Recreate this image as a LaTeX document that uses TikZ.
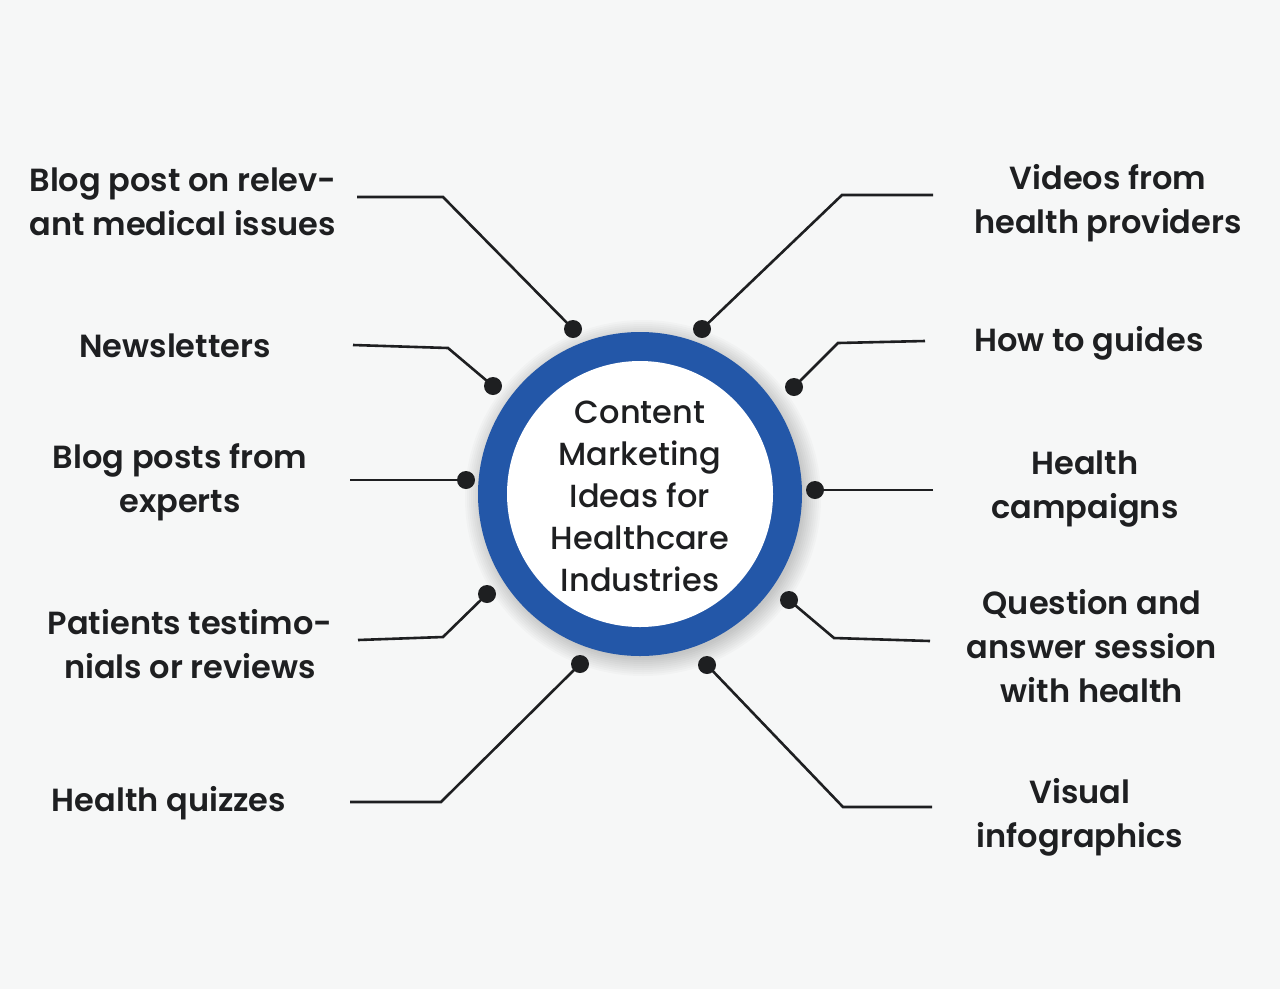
\documentclass[tikz,border=0pt]{standalone}
\usepackage{fontspec}
\newfontfamily\lab{Poppins SemiBold}
\newfontfamily\ctr{Poppins Medium}
\definecolor{bg}{HTML}{F6F7F7}
\definecolor{ring}{HTML}{2357A8}
\definecolor{ink}{HTML}{1E1F21}
\begin{document}
\begin{tikzpicture}[x=1pt,y=-1pt,
  label/.style={align=center,text=ink,font=\lab\fontsize{32}{44}\selectfont,inner sep=0pt},
  dotnode/.style={circle,fill=ink,minimum size=18pt,inner sep=0pt},
  link/.style={draw=ink,line width=2.6pt}]
\fill[bg] (0,0) rectangle (1280,989);
\useasboundingbox (0,0) rectangle (1280,989);
% shadow
\foreach \r in {178,176,...,160}{\fill[black,opacity=0.018] (643,498) circle (\r);}
% ring
\fill[ring] (640,494) circle (162);
\fill[white] (640,494) circle (133);
\node[align=center,text=ink,font=\ctr\fontsize{32}{42}\selectfont,inner sep=0pt] (hub) at (640,496)
  {Content\\Marketing\\Ideas for\\Healthcare\\Industries};
% dots
\node[dotnode] (d1) at (573,329) {};
\node[dotnode] (d2) at (702,329) {};
\node[dotnode] (d3) at (493,386) {};
\node[dotnode] (d4) at (794,387) {};
\node[dotnode] (d5) at (466,480) {};
\node[dotnode] (d6) at (815,490) {};
\node[dotnode] (d7) at (487,594) {};
\node[dotnode] (d8) at (789,600) {};
\node[dotnode] (d9) at (580,664) {};
\node[dotnode] (d10) at (707,665) {};
% free ends
\coordinate (e1) at (357,197); \coordinate (c1) at (443,197);
\coordinate (e2) at (933,195); \coordinate (c2) at (842,195);
\coordinate (e3) at (353,345); \coordinate (c3) at (448,348);
\coordinate (e4) at (925,341); \coordinate (c4) at (838,343);
\coordinate (e5) at (350,480);
\coordinate (e6) at (933,490);
\coordinate (e7) at (358,640); \coordinate (c7) at (443,637);
\coordinate (e8) at (930,641); \coordinate (c8) at (834,638);
\coordinate (e9) at (350,802); \coordinate (c9) at (441,802);
\coordinate (e10) at (932,807); \coordinate (c10) at (843,807);
\draw[link] (e1) -- (c1) -- (d1.center);
\draw[link] (e2) -- (c2) -- (d2.center);
\draw[link] (e3) -- (c3) -- (d3.center);
\draw[link] (e4) -- (c4) -- (d4.center);
\draw[link] (e5) -- (d5.center);
\draw[link] (e6) -- (d6.center);
\draw[link] (e7) -- (c7) -- (d7.center);
\draw[link] (e8) -- (c8) -- (d8.center);
\draw[link] (e9) -- (c9) -- (d9.center);
\draw[link] (e10) -- (c10) -- (d10.center);
% labels
\node[label] (l1) at (183,202) {Blog post on relev-\\ant medical issues};
\node[label] (l2) at (1108,203) {Videos from\\health providers};
\node[label] (l3) at (175,346) {Newsletters};
\node[label] (l4) at (1089,343) {How to guides};
\node[label] (l5) at (180,482) {Blog posts from\\experts};
\node[label] (l6) at (1085,489) {Health\\campaigns};
\node[label] (l7) at (190,644) {Patients testimo-\\nials or reviews};
\node[label] (l8) at (1092,646) {Question and\\answer session\\with health};
\node[label] (l9) at (169,803) {Health quizzes};
\node[label] (l10) at (1080,817) {Visual\\infographics};
\end{tikzpicture}
\end{document}
